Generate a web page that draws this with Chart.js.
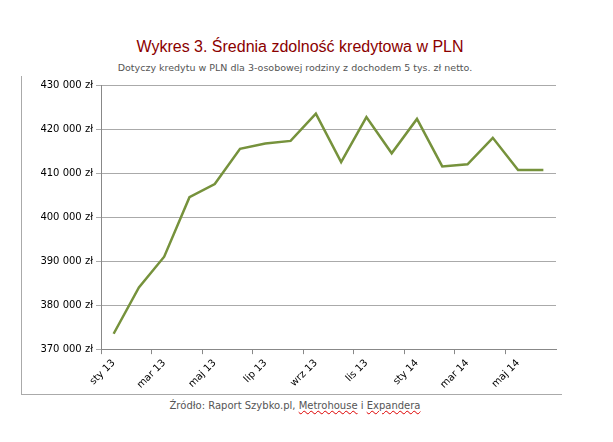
<!DOCTYPE html><html><head><meta charset="utf-8">
<script src="https://cdn.jsdelivr.net/npm/chart.js@4"></script>
<style>
body{margin:0;width:613px;height:442px;background:#fff;font-family:"Liberation Sans",Arial,sans-serif;position:relative}
#t{position:absolute;top:38px;left:0;width:600px;text-align:center;color:#8b0000;font-size:16px}
#s{position:absolute;top:62px;left:0;width:590px;text-align:center;color:#555;font-size:9.5px;font-family:"DejaVu Sans";}
#f{position:absolute;top:400px;left:0;width:590px;text-align:center;color:#555;font-size:10px;font-family:"DejaVu Sans"}
#f span{text-decoration:underline wavy #d00;text-decoration-thickness:1px}
#w{position:absolute;left:21px;top:76px;width:540px;height:318px;border-left:1px solid #aaa;border-bottom:1px solid #aaa}
</style></head><body>
<div id="t">Wykres 3. Średnia zdolność kredytowa w PLN</div>
<div id="s">Dotyczy kredytu w PLN dla 3-osobowej rodziny z dochodem 5 tys. zł netto.</div>
<div id="w"><canvas id="c"></canvas></div>
<div id="f">Źródło: Raport Szybko.pl, <span>Metrohouse</span> i <span>Expandera</span></div>
<script>
const categories=["sty 13","lut 13","mar 13","kwi 13","maj 13","cze 13","lip 13","sie 13","wrz 13","paź 13","lis 13","gru 13","sty 14","lut 14","mar 14","kwi 14","maj 14","cze 14"];
const values=[373500,384000,391000,404500,407500,415500,416700,417300,423500,412500,422700,414500,422300,411500,412000,418000,410700,410700];
const yMin=370000,yMax=430000,yStep=10000;
new Chart(document.getElementById('c'),{type:'line',
data:{labels:categories,datasets:[{data:values,borderColor:'#76923c',borderWidth:2.5,pointRadius:0,tension:0}]},
options:{responsive:true,maintainAspectRatio:false,animation:false,
layout:{padding:{top:7,right:6,left:0,bottom:0}},
plugins:{legend:{display:false},tooltip:{enabled:false}},
scales:{
x:{offset:true,grid:{offset:true,drawOnChartArea:false,color:c=>c.index%2===0?'#888':'rgba(0,0,0,0)',tickLength:5},border:{color:'#888'},
 ticks:{autoSkip:false,maxRotation:45,minRotation:45,color:'#000',font:{size:10,family:'DejaVu Sans'},
 callback:(v,i)=>i%2===0?categories[i]:''}},
y:{min:yMin,max:yMax,afterFit:s=>{s.width=79},grid:{color:'#aaa',tickLength:5},border:{color:'#888'},
 ticks:{stepSize:yStep,color:'#000',font:{size:10,family:'DejaVu Sans'},callback:v=>v.toLocaleString('pl-PL').replace(/\s/g,' ')+' zł'}}}}});
</script></body></html>
